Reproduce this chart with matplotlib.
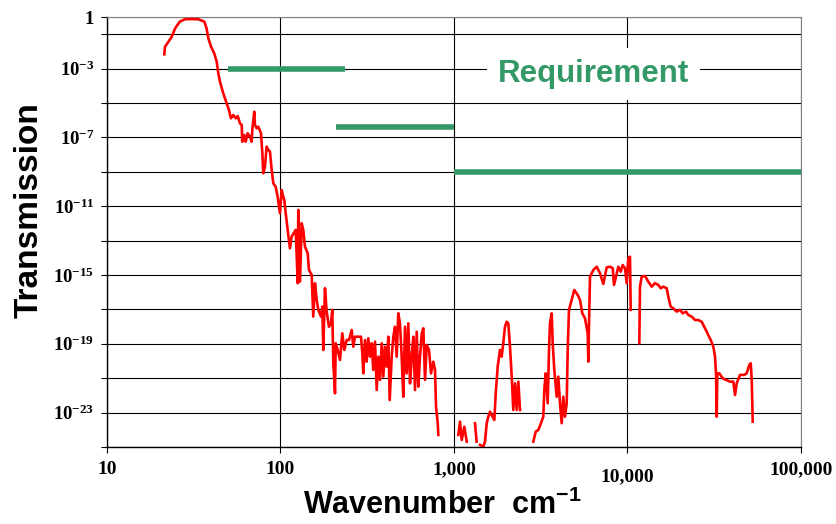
import numpy as np
import matplotlib
matplotlib.use('Agg')
import matplotlib.pyplot as plt
from matplotlib.ticker import FixedLocator, NullLocator

plt.rcParams['mathtext.fontset'] = 'custom'
plt.rcParams['mathtext.rm'] = 'Liberation Serif:bold'
plt.rcParams['mathtext.bf'] = 'Liberation Serif:bold'
plt.rcParams['mathtext.sf'] = 'Liberation Sans:bold'

# atmospheric transmission, wavenumber in cm^-1, transmission given as log10
wn_far = [21.4, 21.6, 22.6, 23.6, 24.7, 26.3, 28.2, 30.8, 33.6, 36.4, 37.5, 38.4, 39.8,
          41.5, 42.9, 43.8, 44.8, 46.8, 49.0, 50.5, 51.8, 53.5, 55.2, 56.7, 58.4, 59.8,
          60.2, 61.8, 63.0, 64.7, 66.7, 68.2, 68.8, 70.6, 71.3, 72.9, 74.5, 77.2, 78.6,
          79.6, 81.4, 83.2, 85.1, 87.0, 89.0, 90.9, 93.8, 96.3, 99.3, 101.6, 103.8, 105.2,
          107.2, 110.0, 113.4, 116.0, 122.4, 125.7, 126.7, 129.6, 132.5, 135.3, 138.4,
          143.5, 146.0, 151.3, 154.5, 158.1, 161.7, 165.2, 171.2, 174.2, 176.5, 180.5,
          184.6, 190.3, 195.5, 198.9, 201.6, 206.2, 208.1, 213.7, 220.3, 227.1, 233.2,
          240.8, 248.3, 257.3, 262.8, 268.8, 291.1, 296.2, 300.1, 306.9, 313.9, 320.7,
          328.0, 335.5, 342.7, 350.6, 358.6, 366.3, 374.6, 383.2, 391.4, 400.3, 409.4,
          418.2, 426.1, 437.6, 446.9, 457.1, 467.6, 477.5, 488.4, 499.5, 510.3, 521.9,
          534.0, 545.4, 557.9, 570.6, 582.9, 596.2, 609.8, 622.9, 637.1, 651.7, 665.7,
          680.9, 696.4, 717.9, 737.2, 760.1, 777.5, 787.9, 805.9, 812.3]
lt_far = [-2.17, -1.73, -1.44, -1.15, -0.66, -0.27, -0.13, -0.12, -0.13, -0.27, -0.66,
          -1.24, -1.73, -2.11, -2.60, -3.27, -3.76, -4.44, -5.02, -5.41, -5.89, -5.70,
          -5.89, -5.76, -6.18, -6.28, -7.25, -6.86, -7.25, -6.76, -6.96, -7.25, -6.57,
          -5.51, -6.28, -6.47, -6.38, -6.76, -7.92, -9.09, -8.70, -7.54, -7.73, -7.83,
          -8.90, -9.67, -9.87, -10.45, -11.41, -10.06, -10.45, -10.64, -11.41, -12.38,
          -13.45, -12.77, -12.38, -15.48, -11.22, -15.39, -11.99, -12.38, -13.35, -13.74,
          -14.71, -15.00, -17.42, -15.48, -16.45, -17.03, -17.42, -16.84, -19.36, -15.77,
          -17.13, -18.01, -17.81, -17.03, -20.13, -21.88, -18.97, -19.36, -19.94, -18.39,
          -19.36, -18.78, -18.78, -18.20, -19.17, -18.59, -18.59, -19.55, -20.72, -18.78,
          -20.04, -18.68, -19.75, -18.97, -20.52, -18.88, -21.69, -19.75, -21.10, -18.97,
          -20.91, -19.17, -20.33, -18.59, -22.27, -19.75, -18.59, -18.01, -19.75, -17.23,
          -17.81, -19.75, -22.08, -18.01, -20.72, -17.81, -21.30, -19.75, -18.59, -21.69,
          -18.30, -21.49, -19.75, -18.39, -18.10, -21.10, -19.07, -19.36, -20.72, -20.04,
          -20.52, -22.66, -23.62, -24.30]

# mid-IR windows (broken where transmission falls below the axis)
wn_mid = [1059, 1083, 1108, 1147, 1184, np.nan, 1321, 1351, np.nan,
          1413, 1475, 1509, 1544, 1577, 1613, 1650, 1708, 1740, 1786, 1841, 1883,
          1923, 1967, 2012, 2056, 2103, 2151, 2197, 2247, 2298, 2349, 2402]
lt_mid = [-24.30, -23.53, -24.59, -23.82, -24.69, np.nan, -23.62, -24.69, np.nan,
          -24.88, -24.98, -24.69, -23.62, -23.24, -22.95, -23.14, -23.43, -21.88,
          -20.33, -19.36, -19.75, -18.97, -18.01, -17.72, -17.81, -19.17, -20.91,
          -22.85, -21.30, -22.85, -21.20, -22.85]

# near-IR up to the visible
wn_nir = [2865, 2958, 3062, 3172, 3271, 3315, 3377, 3468, 3529, 3576, 3657, 3706, 3785,
          3908, 3992, 4083, 4176, 4266, 4363, 4463, 4522, 4600, 4768, 4936, 5164, 5323,
          5489, 5689, 5897, 5944, 6023, 6080, 6354, 6648, 6943, 7254, 7589, 7929, 8217,
          8360, 8585, 8851, 9138, 9384, 9674, 9894, 10107, 10337, 10432]
lt_nir = [-24.69, -24.11, -24.01, -23.62, -23.24, -21.69, -20.72, -22.46, -19.36, -17.81,
          -17.23, -18.97, -20.52, -22.08, -20.91, -22.46, -23.62, -22.08, -23.24, -22.46,
          -19.36, -17.03, -16.45, -15.87, -16.16, -16.45, -17.23, -17.52, -18.39, -20.04,
          -17.03, -15.10, -14.71, -14.52, -14.90, -15.52, -14.56, -14.52, -14.61, -15.58,
          -15.10, -14.52, -14.81, -14.42, -14.61, -15.48, -14.03, -13.94, -17.03]

# visible / UV
wn_uv = [11697, 11803, 12073, 12614, 13180, 13788, 14405, 15049, 15537, 16082, 16824,
         17186, 17742, 18365, 19213, 20073, 20806, 21737, 22409, 23442, 24491, 25590,
         26770, 27970, 29220, 30170, 31230, 31940, 32370, 32670, 32930, 33820, 35390,
         36970, 38980, 40720, 41650, 42600, 44510, 46950, 48640, 50350, 51300, 52000,
         52680]
lt_uv = [-18.97, -15.68, -15.10, -15.06, -15.39, -15.68, -15.48, -15.58, -15.77, -15.68,
         -15.77, -16.26, -16.84, -16.94, -17.13, -17.03, -17.23, -17.13, -17.33, -17.42,
         -17.62, -17.62, -17.72, -18.10, -18.49, -18.78, -19.17, -19.75, -20.72, -23.24,
         -20.72, -20.72, -21.01, -21.10, -21.20, -21.20, -21.98, -21.30, -20.81, -20.81,
         -20.72, -20.23, -20.13, -21.10, -23.53]

# requirement levels
req_start = [50, 210, 1000]
req_end = [235, 1000, 100000]
req_level = [1e-3, 4e-7, 1e-9]

ytick_vals = [1, 1e-1, 1e-3, 1e-5, 1e-7, 1e-9, 1e-11, 1e-13, 1e-15, 1e-17, 1e-19,
              1e-21, 1e-23, 1e-25]
ytick_text = ['1', '', '-3', '', '-7', '', '-11', '', '-15', '', '-19', '', '-23', '']
xtick_vals = [10, 100, 1000, 10000, 100000]
xtick_text = ['10', '100', '1,000', '10,000', '100,000']

green = '#339966'

fig = plt.figure(figsize=(8.37, 5.24), dpi=100)
ax = fig.add_axes([0.1278, 0.147, 0.8292, 0.8206])
ax.set_xscale('log')
ax.set_yscale('log')

for wn, lt in [(wn_far, lt_far), (wn_mid, lt_mid), (wn_nir, lt_nir), (wn_uv, lt_uv)]:
    ax.plot(wn, 10.0 ** np.array(lt, dtype=float), color='red', lw=1.9,
            solid_joinstyle='round', zorder=3)

ax.hlines(req_level, req_start, req_end, color=green, lw=4, capstyle='butt', zorder=3)

ax.text(6400, 1.7e-4, 'Requirement', color=green, fontsize=22.5, fontweight='bold',
        family='Liberation Sans', ha='center', va='baseline', zorder=4,
        bbox=dict(boxstyle='square,pad=0.35', fc='white', ec='none'))

ax.set_xlim(10, 1e5)
ax.set_ylim(1e-25, 1)

ax.xaxis.set_major_locator(FixedLocator(xtick_vals))
ax.xaxis.set_minor_locator(NullLocator())
ax.set_xticklabels(xtick_text, family='Liberation Serif', fontweight='bold', fontsize=14)
ax.yaxis.set_major_locator(FixedLocator(ytick_vals))
ax.yaxis.set_minor_locator(NullLocator())
ylabels = []
for t in ytick_text:
    if t == '':
        ylabels.append('')
    elif t == '1':
        ylabels.append(r'$\mathbf{1}$')
    else:
        ylabels.append(r'$\mathbf{10^{%s}}$' % t)
ax.set_yticklabels(ylabels, fontsize=13.5)

ax.tick_params(axis='both', direction='out', length=4, width=0.8, color='black')
ax.tick_params(axis='x', pad=6)
ax.tick_params(axis='y', pad=5)

# the 10,000 label sits a little lower than the rest
for lab in ax.get_xticklabels():
    if lab.get_text() == '10,000':
        lab.set_y(-0.017)

ax.grid(True, which='major', color='black', lw=0.8)
ax.set_axisbelow(True)
for side in ['top', 'right']:
    ax.spines[side].set_color('#808080')
for side in ['left', 'bottom']:
    ax.spines[side].set_color('black')
    ax.spines[side].set_linewidth(1.0)

ax.set_ylabel('Transmission', fontsize=24, fontweight='bold', family='Liberation Sans',
              va='center')
ax.yaxis.set_label_coords(-0.112, 0.55)
ax.set_xlabel(r'Wavenumber  cm$\mathsf{{}^{-1}}$', fontsize=22, fontweight='bold',
              family='Liberation Sans', va='center')
ax.xaxis.set_label_coords(0.483, -0.135)

fig.savefig('out.png', dpi=100)
